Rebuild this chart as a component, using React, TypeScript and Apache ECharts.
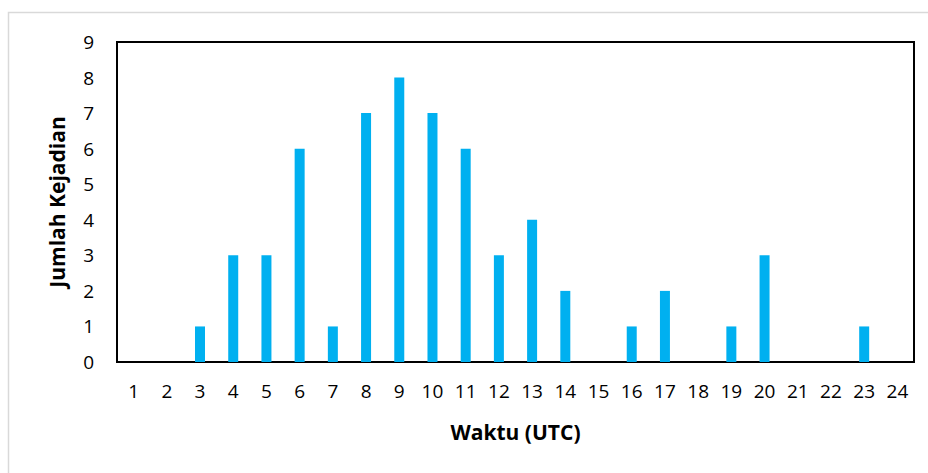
import React, { useEffect, useRef } from "react";
import * as echarts from "echarts";

const categories = ["1","2","3","4","5","6","7","8","9","10","11","12","13","14","15","16","17","18","19","20","21","22","23","24"];
const counts = [0,0,1,3,3,6,1,7,8,7,6,3,4,2,0,1,2,0,1,3,0,0,1,0];
const xTitle = "Waktu (UTC)";
const yTitle = "Jumlah Kejadian";

export default function App() {
  const ref = useRef<HTMLDivElement>(null);
  useEffect(() => {
    if (!ref.current) return;
    const chart = echarts.init(ref.current, undefined, { renderer: "svg" });
    const font = "'Open Sans', 'Noto Sans', sans-serif";
    chart.setOption({
      animation: false,
      backgroundColor: "#ffffff",
      graphic: [
        {
          type: "rect",
          shape: { x: 8.5, y: 12.5, width: 940, height: 480 },
          style: { fill: "none", stroke: "#d9d9d9", lineWidth: 1.5 },
          silent: true,
        },
      ],
      grid: {
        left: 117,
        top: 42,
        right: 14,
        bottom: 111,
        show: true,
        borderColor: "#000",
        borderWidth: 2,
        backgroundColor: "transparent",
      },
      xAxis: {
        type: "category",
        data: categories,
        name: xTitle,
        nameLocation: "middle",
        nameGap: 59,
        nameTextStyle: { fontFamily: font, fontSize: 21, fontWeight: "bold", color: "#000" },
        axisLine: { show: true, lineStyle: { color: "#000", width: 2 } },
        axisTick: { show: false },
        axisLabel: { fontFamily: font, fontSize: 19, color: "#000", margin: 19 },
        splitLine: { show: false },
      },
      yAxis: {
        type: "value",
        min: 0,
        max: 9,
        interval: 1,
        name: yTitle,
        nameLocation: "middle",
        nameGap: 50,
        nameRotate: 90,
        nameTextStyle: { fontFamily: font, fontSize: 21, fontWeight: "bold", color: "#000" },
        axisLine: { show: true, lineStyle: { color: "#000", width: 2 } },
        axisTick: { show: false },
        axisLabel: { fontFamily: font, fontSize: 19, color: "#000", margin: 23 },
        splitLine: { show: false },
      },
      series: [
        {
          type: "bar",
          data: counts,
          barWidth: 10,
          itemStyle: { color: "#00B0F0" },
        },
      ],
    });
    return () => chart.dispose();
  }, []);
  return (
    <div
      ref={ref}
      style={{ position: "fixed", left: 0, top: 0, width: 928, height: 473 }}
    />
  );
}
